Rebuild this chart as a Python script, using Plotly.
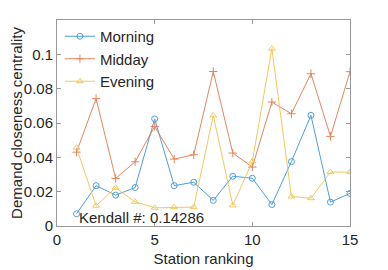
import plotly.graph_objects as go

stations = list(range(1, 16))
morning = [0.0071, 0.0235, 0.018, 0.0224, 0.0624, 0.0235, 0.0255, 0.0149, 0.029, 0.0278, 0.0125, 0.0375, 0.0645, 0.0139, 0.019]
midday = [0.043, 0.0742, 0.0277, 0.0374, 0.058, 0.039, 0.0415, 0.090, 0.0425, 0.0343, 0.0722, 0.0654, 0.0887, 0.0522, 0.0899]
evening = [0.0456, 0.0118, 0.0223, 0.0141, 0.0106, 0.011, 0.011, 0.0644, 0.012, 0.0376, 0.1033, 0.0172, 0.0162, 0.0314, 0.0314]
series_names = ["Morning", "Midday", "Evening"]
x_ticks = [0, 5, 10, 15]
y_ticks = [0, 0.02, 0.04, 0.06, 0.08, 0.1]
y_tick_labels = ["0", "0.02", "0.04", "0.06", "0.08", "0.1"]
kendall_text = "Kendall #: 0.14286"

colors = ["#2E8FD6", "#E0703F", "#F0C040"]
symbols = ["circle-open", "cross-thin-open", "triangle-up-open"]

fig = go.Figure()
for name, vals, c, s in zip(series_names, [morning, midday, evening], colors, symbols):
    fig.add_trace(go.Scatter(
        x=stations, y=vals, name=name, mode="lines+markers",
        line=dict(color=c, width=1),
        marker=dict(symbol=s, size=6, color=c, line=dict(color=c, width=1)),
        opacity=0.85,
    ))

axis_common = dict(showline=True, linecolor="#999999", linewidth=1, mirror="ticks",
                   ticks="inside", ticklen=4, tickcolor="#999999", showgrid=False,
                   zeroline=False, automargin=False, tickfont=dict(size=15, color="#262626"))
# page body has an 8px default margin, so the figure is sized to fit the window
fig.update_layout(
    width=380, height=262,
    margin=dict(l=49, r=38, t=12, b=44),
    plot_bgcolor="white", paper_bgcolor="white",
    font=dict(family="Liberation Sans, Arial, sans-serif", color="#262626"),
    xaxis=dict(range=[0, 15], tickvals=x_ticks,
               title=dict(text="Station ranking", font=dict(size=15), standoff=6), **axis_common),
    yaxis=dict(range=[0, 0.12], tickvals=y_ticks, ticktext=y_tick_labels,
               title=dict(text="Demand closeness centrality", font=dict(size=15), standoff=3), **axis_common),
    legend=dict(x=0.01, y=1.0, xanchor="left", yanchor="top", bgcolor="rgba(255,255,255,0)",
                font=dict(size=15, color="#262626"), itemwidth=30, tracegroupgap=0),
    showlegend=True,
)
fig.add_annotation(x=1, y=0, xref="x", yref="y", xanchor="left", yanchor="bottom",
                   text=kendall_text, showarrow=False, font=dict(size=15, color="#262626"), yshift=-2)

fig.write_html("out.html")
